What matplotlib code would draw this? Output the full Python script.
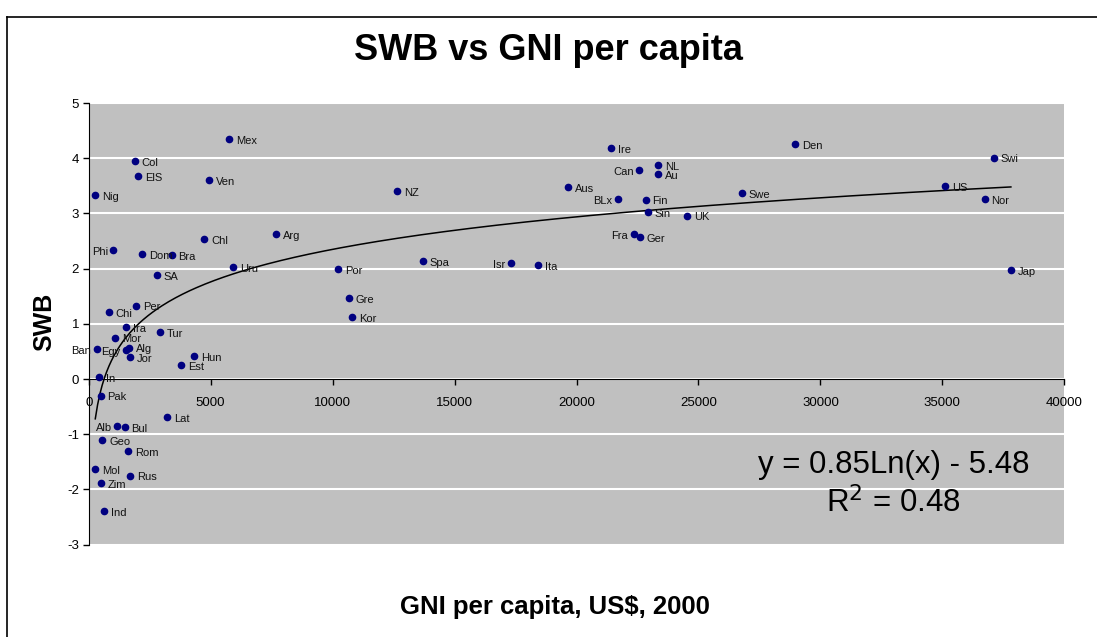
import numpy as np
import matplotlib.pyplot as plt
from matplotlib.lines import Line2D

plt.rcParams['font.family'] = ['Liberation Sans', 'DejaVu Sans']
plt.rcParams['axes.unicode_minus'] = False

# Dati: paese, PIL pro capite (US$ 2000), SWB
countries = ['Mex', 'Col', 'ElS', 'Nig', 'Ven', 'Chl', 'Arg', 'Phi', 'Dom', 'Bra',
             'Uru', 'SA', 'Per', 'Chi', 'Ira', 'Tur', 'Mor', 'Ban', 'Egy', 'Alg',
             'Jor', 'Hun', 'Est', 'In', 'Pak', 'Lat', 'Alb', 'Bul', 'Geo', 'Rom',
             'Mol', 'Rus', 'Zim', 'Ind', 'NZ', 'Spa', 'Por', 'Gre', 'Kor', 'Isr',
             'Ita', 'Ire', 'NL', 'Can', 'Au', 'Aus', 'BLx', 'Fin', 'Sin', 'UK',
             'Fra', 'Ger', 'Swe', 'Den', 'Swi', 'US', 'Nor', 'Jap']
gni = [5740, 1885, 2020, 270, 4930, 4740, 7690, 1010, 2200, 3400,
       5930, 2800, 1940, 820, 1530, 2920, 1090, 340, 1520, 1650,
       1690, 4330, 3780, 410, 490, 3220, 1170, 1475, 560, 1610,
       270, 1690, 500, 640, 12640, 13690, 10220, 10660, 10790, 17310,
       18430, 21430, 23330, 22570, 23360, 19640, 21700, 22830, 22920, 24550,
       22340, 22590, 26780, 28970, 37100, 35120, 36730, 37810]
swb = [4.34, 3.95, 3.68, 3.33, 3.60, 2.54, 2.63, 2.34, 2.26, 2.24,
       2.03, 1.88, 1.33, 1.21, 0.94, 0.85, 0.75, 0.54, 0.52, 0.57,
       0.40, 0.42, 0.25, 0.03, -0.30, -0.69, -0.86, -0.87, -1.11, -1.31,
       -1.63, -1.75, -1.88, -2.40, 3.41, 2.14, 1.99, 1.46, 1.12, 2.10,
       2.07, 4.18, 3.88, 3.78, 3.71, 3.48, 3.26, 3.25, 3.02, 2.96,
       2.63, 2.57, 3.37, 4.26, 4.01, 3.49, 3.26, 1.97]
left_labels = ['Phi', 'Ban', 'Egy', 'Can', 'BLx', 'Fra', 'Isr', 'Alb']

# coefficienti della curva logaritmica
a, b = 0.85, -5.48

fig = plt.figure(figsize=(10.97, 6.37), dpi=100)
ax = fig.add_axes([88.7 / 1097, 1 - 544.6 / 637, 975.6 / 1097, 441.6 / 637])
ax.set_facecolor('#c0c0c0')

ax.set_xlim(0, 40000)
ax.set_ylim(-3, 5)
ax.set_xticks(np.arange(0, 40001, 5000))
ax.set_yticks(np.arange(-3, 6, 1))
ax.yaxis.grid(True, color='white', lw=1.5)
ax.set_axisbelow(True)

ax.spines['top'].set_visible(False)
ax.spines['right'].set_visible(False)
ax.spines['bottom'].set_position(('data', 0))
ax.spines['left'].set_color('black')
ax.tick_params(axis='both', labelsize=9.5, length=4, width=1, direction='out')
ax.tick_params(axis='x', pad=9)
ax.tick_params(axis='y', pad=3)

# punti
ax.plot(gni, swb, 'o', color='#000080', ms=4.5, zorder=3)

# curva di regressione
xs = np.linspace(min(gni), max(gni), 400)
ax.plot(xs, a * np.log(xs) + b, color='black', lw=1.1, zorder=2)

# etichette dei paesi
for name, x, y in zip(countries, gni, swb):
    if name in left_labels:
        ax.annotate(name, (x, y), xytext=(-4, -1.3), textcoords='offset points',
                    ha='right', va='center', fontsize=8, color='#111111')
    else:
        ax.annotate(name, (x, y), xytext=(5, -1.3), textcoords='offset points',
                    ha='left', va='center', fontsize=8, color='#111111')

# equazione
ax.text(33000, -1.55, 'y = 0.85Ln(x) - 5.48', fontsize=22.5, ha='center', va='center')
ax.text(33000, -2.25, 'R$^2$ = 0.48', fontsize=22.5, ha='center', va='center')

fig.text(0.5, 1 - 50 / 637, 'SWB vs GNI per capita', fontsize=26, fontweight='bold',
         ha='center', va='center')
fig.text(555 / 1097, 1 - 607 / 637, 'GNI per capita, US$, 2000', fontsize=18.5,
         fontweight='bold', ha='center', va='center')
fig.text(44 / 1097, 1 - 322 / 637, 'SWB', fontsize=18, fontweight='bold',
         rotation=90, ha='center', va='center')

# cornice del grafico
fig.add_artist(Line2D([7 / 1097, 7 / 1097], [0, 1 - 17 / 637], color='black', lw=1.2))
fig.add_artist(Line2D([7 / 1097, 1], [1 - 17 / 637, 1 - 17 / 637], color='black', lw=1.2))

fig.savefig('out.png', dpi=100)
